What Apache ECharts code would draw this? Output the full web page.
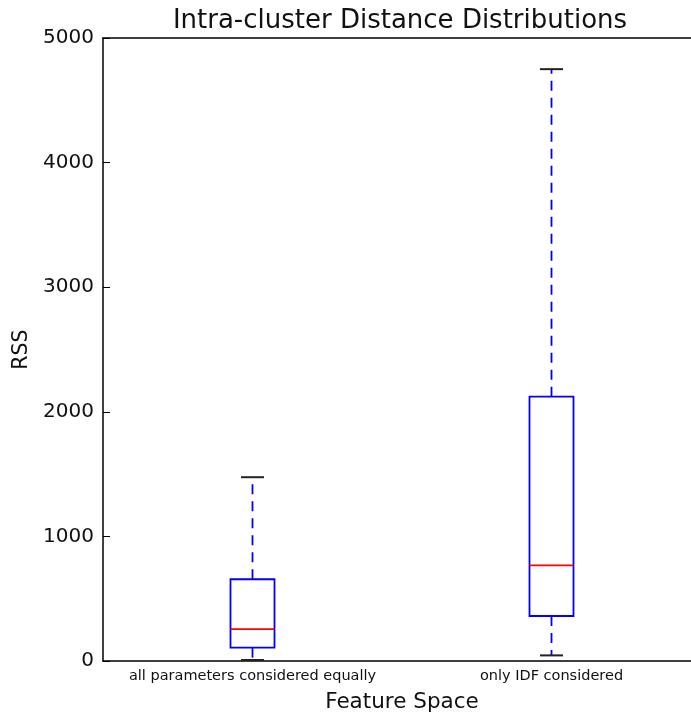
<!DOCTYPE html>
<html>
<head>
<meta charset="utf-8">
<script src="https://cdn.jsdelivr.net/npm/echarts@6/dist/echarts.min.js"></script>
<style>
  html, body { margin: 0; padding: 0; background: #fff; overflow: hidden; }
  /* the plot box runs past the right edge of the window, as in the reference */
  #main { width: 701px; height: 714px; }
</style>
</head>
<body>
<div id="main"></div>
<script>
const categories = ['all parameters considered equally', 'only IDF considered']
// five-number summaries
const mins = [8, 45]
const q1s = [107, 361]
const medians = [256, 768]
const q3s = [656, 2121]
const maxs = [1475, 4750]
const yTicks = [0, 1000, 2000, 3000, 4000, 5000]

const font = 'DejaVu Sans'
const boxData = categories.map((c, i) => [i, mins[i], q1s[i], medians[i], q3s[i], maxs[i]])

const chart = echarts.init(document.getElementById('main'))

function renderBox(params, api) {
  const i = api.value(0)
  const pMin = api.coord([i, api.value(1)])
  const pQ1 = api.coord([i, api.value(2)])
  const pMed = api.coord([i, api.value(3)])
  const pQ3 = api.coord([i, api.value(4)])
  const pMax = api.coord([i, api.value(5)])
  const x = pMed[0]
  const hw = 22, cw = 11.5
  const blue = '#0000ff'
  const dash = { stroke: blue, lineWidth: 1.8, lineDash: [10, 7] }
  return {
    type: 'group',
    children: [
      { type: 'line', shape: { x1: x, y1: pQ3[1], x2: x, y2: pMax[1] }, style: dash },
      { type: 'line', shape: { x1: x, y1: pQ1[1], x2: x, y2: pMin[1] }, style: dash },
      { type: 'line', shape: { x1: x - cw, y1: pMax[1], x2: x + cw, y2: pMax[1] }, style: { stroke: '#222', lineWidth: 2 } },
      { type: 'line', shape: { x1: x - cw, y1: pMin[1], x2: x + cw, y2: pMin[1] }, style: { stroke: '#222', lineWidth: 2 } },
      { type: 'rect', shape: { x: x - hw, y: pQ3[1], width: hw * 2, height: pQ1[1] - pQ3[1] },
        style: { fill: '#fff', stroke: blue, lineWidth: 1.8 } },
      { type: 'line', shape: { x1: x - hw, y1: pMed[1], x2: x + hw, y2: pMed[1] }, style: { stroke: '#ff0000', lineWidth: 1.8 } }
    ]
  }
}

chart.setOption({
  animation: false,
  title: {
    text: 'Intra-cluster Distance Distributions',
    left: 395, top: 3, textAlign: 'center',
    textStyle: { fontFamily: font, fontSize: 26, fontWeight: 'normal', color: '#111' }
  },
  grid: { left: 103, top: 38, right: 0, bottom: 53, containLabel: false, outerBoundsMode: 'none' },
  xAxis: [{
    type: 'category',
    data: categories,
    position: 'bottom',
    name: 'Feature Space',
    nameLocation: 'middle',
    nameGap: 30,
    nameTextStyle: { fontFamily: font, fontSize: 21.5, color: '#111' },
    axisLine: { lineStyle: { color: '#000', width: 1.5 } },
    axisTick: { inside: true, alignWithLabel: true, length: 7, lineStyle: { color: '#000' } },
    axisLabel: { interval: 0, fontFamily: font, fontSize: 14.5, color: '#111', margin: 8 },
    splitLine: { show: false }
  }, {
    type: 'category',
    data: categories,
    position: 'top',
    axisLine: { lineStyle: { color: '#000', width: 1.5 } },
    axisTick: { inside: true, alignWithLabel: true, length: 7, lineStyle: { color: '#000' } },
    axisLabel: { show: false },
    splitLine: { show: false }
  }],
  yAxis: {
    type: 'value',
    min: 0, max: 5000, interval: 1000,
    name: 'RSS',
    nameLocation: 'middle',
    nameGap: 70,
    nameTextStyle: { fontFamily: font, fontSize: 20.5, color: '#111' },
    axisLine: { show: true, lineStyle: { color: '#000', width: 1.5 } },
    axisTick: { show: true, inside: true, length: 7, lineStyle: { color: '#000' } },
    axisLabel: {
      fontFamily: font, fontSize: 20, color: '#111', margin: 9,
      formatter: v => yTicks.includes(v) ? String(v) : ''
    },
    splitLine: { show: false }
  },
  series: [{
    type: 'custom',
    renderItem: renderBox,
    encode: { x: 0, y: [1, 2, 3, 4, 5] },
    data: boxData
  }]
})
</script>
</body>
</html>
